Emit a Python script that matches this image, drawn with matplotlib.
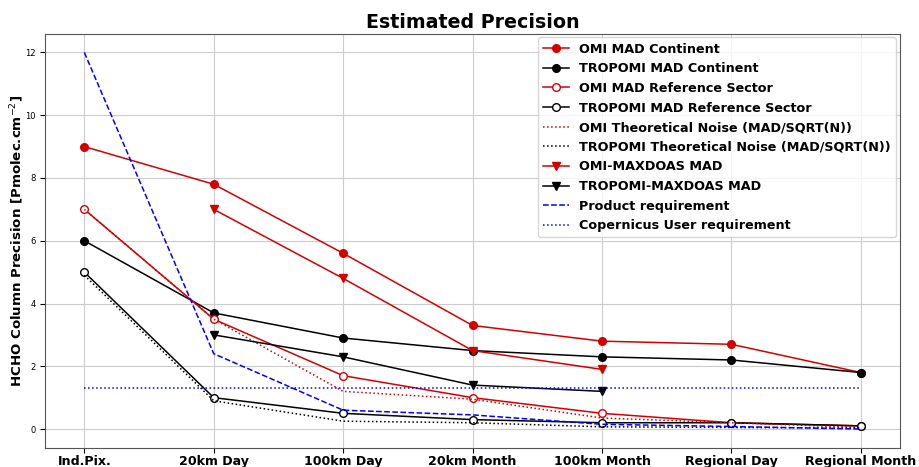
import numpy as np
import matplotlib
matplotlib.use('Agg')
import matplotlib.pyplot as plt

categories = ['Ind.Pix.', '20km Day', '100km Day', '20km Month', '100km Month', 'Regional Day', 'Regional Month']

omi_mad_cont = [9.0, 7.8, 5.6, 3.3, 2.8, 2.7, 1.8]
tropomi_mad_cont = [6.0, 3.7, 2.9, 2.5, 2.3, 2.2, 1.8]
omi_mad_ref = [7.0, 3.5, 1.7, 1.0, 0.5, 0.2, 0.1]
tropomi_mad_ref = [5.0, 1.0, 0.5, 0.3, 0.2, 0.2, 0.1]
omi_noise = [7.0, 3.5, 1.2, 0.95, 0.35, 0.2, 0.05]
tropomi_noise = [4.9, 0.9, 0.25, 0.2, 0.07, 0.05, 0.03]
omi_maxdoas = [np.nan, 7.0, 4.8, 2.5, 1.9, np.nan, np.nan]
tropomi_maxdoas = [np.nan, 3.0, 2.3, 1.4, 1.2, np.nan, np.nan]
product_req = [12.0, 2.4, 0.6, 0.45, 0.15, 0.08, 0.0]
copernicus_req = [1.3, 1.3, 1.3, 1.3, 1.3, 1.3, 1.3]

red = '#d40000'
x = np.arange(len(categories))

fig = plt.figure(figsize=(9.19, 4.67), dpi=100)
ax = fig.add_axes([0.0495, 0.041, 0.9295, 0.887])

lw = 1.1
ax.plot(x, omi_mad_cont, '-o', color=red, lw=lw, ms=5.5, label='OMI MAD Continent')
ax.plot(x, tropomi_mad_cont, '-o', color='black', lw=lw, ms=5.5, label='TROPOMI MAD Continent')
ax.plot(x, omi_mad_ref, '-o', color=red, mfc='white', lw=lw, ms=5.5, label='OMI MAD Reference Sector')
ax.plot(x, tropomi_mad_ref, '-o', color='black', mfc='white', lw=lw, ms=5.5, label='TROPOMI MAD Reference Sector')
ax.plot(x, omi_noise, ':', color=red, lw=lw, label='OMI Theoretical Noise (MAD/SQRT(N))')
ax.plot(x, tropomi_noise, ':', color='black', lw=lw, label='TROPOMI Theoretical Noise (MAD/SQRT(N))')
ax.plot(x, omi_maxdoas, '-v', color=red, lw=lw, ms=6, label='OMI-MAXDOAS MAD')
ax.plot(x, tropomi_maxdoas, '-v', color='black', lw=lw, ms=6, label='TROPOMI-MAXDOAS MAD')
ax.plot(x, product_req, '--', color='blue', lw=lw, label='Product requirement')
ax.plot(x, copernicus_req, ':', color='blue', lw=lw, label='Copernicus User requirement')

ax.set_xticks(x)
ax.set_xticklabels(categories, fontsize=9.1, fontweight='bold')
ax.tick_params(axis='x', pad=2)
ax.tick_params(axis='y', labelsize=6)
ax.grid(True, color='#cccccc')
for s in ax.spines.values():
    s.set_color('#555555')
ax.set_title('Estimated Precision', fontsize=13.7, fontweight='bold', pad=4)
ax.set_ylabel('HCHO Column Precision [Pmolec.cm$^{-2}$]', fontsize=9.6, fontweight='bold')
ax.yaxis.set_label_coords(-0.023, 0.5)
ax.legend(loc='upper right', prop={'size': 9.2, 'weight': 'bold'}, handlelength=2,
          borderaxespad=0.3, labelspacing=0.52)

fig.savefig('out.png', dpi=100)
